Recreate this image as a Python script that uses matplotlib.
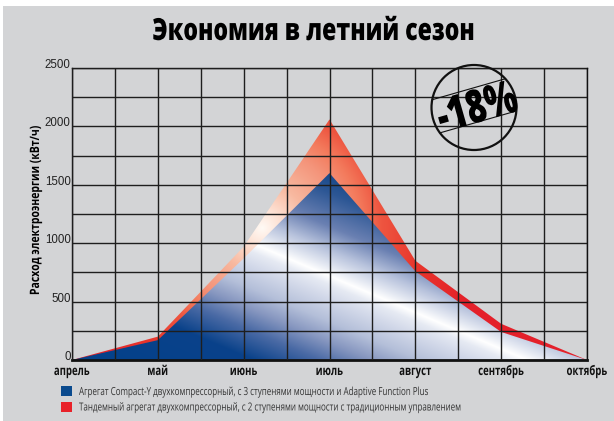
import numpy as np
import matplotlib
matplotlib.use('Agg')
import matplotlib.pyplot as plt
from matplotlib.patches import Polygon, Rectangle, Ellipse
from matplotlib.lines import Line2D
from matplotlib.colors import to_rgb
from matplotlib.textpath import TextPath
from matplotlib.transforms import Affine2D
from matplotlib import patheffects

# данные
months = ['апрель', 'май', 'июнь', 'июль', 'август', 'сентябрь', 'октябрь']
compact_y = [0, 170, 870, 1600, 760, 240, 0]
tandem = [0, 200, 970, 2060, 850, 310, 0]
y_ticks = [0, 500, 1000, 1500, 2000, 2500]

title = 'Экономия в летний сезон'
y_label = 'Расход электроэнергии (кВт/ч)'
legend_labels = ['Агрегат Compact-Y двухкомпрессорный, с 3 ступенями мощности и Adaptive Function Plus',
                 'Тандемный агрегат двухкомпрессорный, с 2 ступенями мощности с традиционным управлением']
saving = '-18%'

cond = ['Open Sans', 'DejaVu Sans']
plt.rcParams['font.family'] = ['Liberation Sans', 'DejaVu Sans']


# узкий шрифт: сжимаем глифы по горизонтали
class Squeeze(patheffects.AbstractPathEffect):
    def __init__(self, sx, anchor='center'):
        super().__init__()
        self.sx = sx
        self.anchor = anchor

    def draw_path(self, renderer, gc, tpath, affine, rgbFace=None):
        xs = tpath.vertices[:, 0]
        c = xs.min() if self.anchor == 'left' else (xs.min() + xs.max()) / 2
        tr = Affine2D().translate(-c, 0).scale(self.sx, 1).translate(c, 0) + affine
        renderer.draw_path(gc, tpath, tr, rgbFace)


def squeeze_to(txt, target_px, anchor='center'):
    ext = TextPath((0, 0), txt.get_text(), prop=txt.get_fontproperties()).get_extents()
    sx = target_px / (ext.width * 100 / 72)
    txt.set_path_effects([Squeeze(sx, anchor)])
    return sx


W, H = 614, 421
fig = plt.figure(figsize=(W / 100, H / 100), dpi=100)
fig.patch.set_facecolor('white')
fig.add_artist(Rectangle((3 / W, 0), 1, (H - 6) / H, transform=fig.transFigure,
                         facecolor='#d3d4d6', edgecolor='none', zorder=0))

# оси в пикселях
L, R, T, B = 72, 587, 68, 360
ax = fig.add_axes([L / W, (H - B) / H, (R - L) / W, (B - T) / H])
ax.set_facecolor('none')
ax.set_xlim(0, 6)
ax.set_ylim(0, 2500)


def ramp(vals, pts, cols):
    rgb = np.array([to_rgb(c) for c in cols])
    out = np.zeros(vals.shape + (3,))
    for k in range(3):
        out[..., k] = np.interp(vals, pts, rgb[:, k])
    return out


# сетка пикселей для градиентов
XX, YY = np.meshgrid(np.linspace(0, 6, R - L), np.linspace(0, 2500, B - T))
px = L + XX / 6 * (R - L)
py = B - YY / 2500 * (B - T)

# синий: линейный градиент с белой полосой
slope = 0.425
d = (py - (246.7 + (px - 260) * slope)) * np.cos(np.arctan(slope))
blue_img = ramp(d,
                [-200, -93, -77, -46, -24, -8, 0, 8, 20, 42, 61, 81, 107, 200],
                ['#0b438a', '#1a4a8b', '#2d5795', '#6a80b2', '#b7c2dc', '#e6eaf3', '#ffffff',
                 '#e6eaf3', '#d4daea', '#b4bfd9', '#8797c0', '#4a6aa5', '#0a428a', '#00418a'])

# красный: радиальный градиент
r = np.hypot(px - 262, py - 228)
red_img = ramp(r,
               [0, 20, 45, 80, 100, 120, 160, 220],
               ['#fffaf5', '#fde0d2', '#f8b9a0', '#f4947a', '#f37a5c', '#ee5540', '#e8352c', '#e4202a'])

x = np.arange(len(months))
for vals, img in [(tandem, red_img), (compact_y, blue_img)]:
    poly = Polygon(list(zip(x, vals)), closed=True, facecolor='none', edgecolor='none')
    ax.add_patch(poly)
    im = ax.imshow(img, extent=[0, 6, 0, 2500], origin='lower', aspect='auto',
                   interpolation='bilinear', zorder=1)
    im.set_clip_path(poly)

# сетка
ax.set_xticks(x)
ax.set_xticks(np.arange(0.5, 6, 1), minor=True)
ax.set_yticks(y_ticks)
ax.set_yticks(np.arange(250, 2500, 500), minor=True)
ax.set_axisbelow(False)
ax.grid(which='both', color='#1e1e1e', lw=1.0)
ax.tick_params(which='both', length=0)
ax.set_xticklabels([])
ax.set_yticklabels([str(v) for v in y_ticks], fontsize=8.3, color='#222222', va='baseline')
ax.tick_params(axis='y', pad=1)
for s in ax.spines.values():
    s.set_color('#111111')
    s.set_linewidth(1.0)
ax.spines['bottom'].set_linewidth(2)

# подписи месяцев
sx_month = None
for i, m in enumerate(months):
    t = ax.text(i, -15 / (B - T), m, transform=ax.get_xaxis_transform(), ha='center',
                va='baseline', fontsize=9.5, fontweight='bold', family=cond, color='#111111')
    if sx_month is None:
        sx_month = squeeze_to(t, 35)
    else:
        t.set_path_effects([Squeeze(sx_month)])

# заголовок и подпись оси
t = fig.text(313 / W, 1 - 40 / H, title, ha='center', va='baseline', fontsize=22,
             fontweight='heavy', family=cond)
squeeze_to(t, 320)
t = fig.text(39 / W, 1 - 211 / H, y_label, ha='center', va='baseline', rotation=90,
             rotation_mode='anchor', fontsize=9.3, fontweight='bold', family=cond)
squeeze_to(t, 168)

# легенда
sx_leg = None
for i, (lab, col) in enumerate(zip(legend_labels, ['#0a4a8e', '#e8222a'])):
    yb = 395 + i * 15.5
    fig.add_artist(Rectangle((61 / W, 1 - (yb + 1) / H), 11 / W, 10 / H,
                             transform=fig.transFigure, facecolor=col, edgecolor='none'))
    t = fig.text(79 / W, 1 - yb / H, lab, ha='left', va='baseline', fontsize=8,
                 color='#333333', family=cond)
    if sx_leg is None:
        sx_leg = squeeze_to(t, 349, anchor='left')
    else:
        t.set_path_effects([Squeeze(sx_leg, 'left')])

# штамп -18%
cx, cy, rad = 474, H - 107.5, 42.5
fig.add_artist(Ellipse((cx / W, cy / H), 2 * rad / W, 2 * rad / H, transform=fig.transFigure,
                       facecolor='none', edgecolor='#111111', lw=1.6, zorder=5))
ang = np.deg2rad(16)
u = np.array([np.cos(ang), np.sin(ang)])
n = np.array([-np.sin(ang), np.cos(ang)])
for off in [19, -15]:
    half = np.sqrt(rad ** 2 - off ** 2)
    p1 = np.array([cx, cy]) + off * n - half * u
    p2 = np.array([cx, cy]) + off * n + half * u
    fig.add_artist(Line2D([p1[0] / W, p2[0] / W], [p1[1] / H, p2[1] / H],
                          transform=fig.transFigure, color='#111111', lw=0.8, zorder=5))
tc = np.array([cx + 3, cy]) - 14.5 * n
t = fig.text(tc[0] / W, tc[1] / H, saving, ha='center', va='baseline', rotation=16,
             rotation_mode='anchor', fontsize=33, fontweight='heavy', family=cond, zorder=6)
squeeze_to(t, 80)

fig.savefig('out.png', dpi=100)
